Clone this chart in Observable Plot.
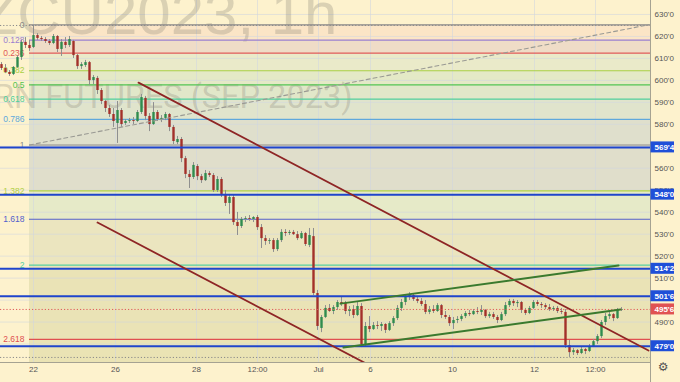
<!DOCTYPE html>
<html><head><meta charset="utf-8">
<script src="https://cdn.jsdelivr.net/npm/d3@7"></script>
<script src="https://cdn.jsdelivr.net/npm/@observablehq/plot@0.6"></script>
<style>
html,body{margin:0;padding:0;background:#fdf2cd;}
#chart svg{display:block;}
</style></head><body><div id="chart"></div>
<script>
// ---- hourly candles (bar index = position in series) ----
const opens = [607.2,605.4,603.6,602.7,605.9,610.4,617.3,615.9,615.0,620.4,
 619.1,618.6,617.7,616.8,620.0,614.1,617.3,615.9,617.7,611.3,
 606.3,606.8,608.1,599.9,600.9,595.4,590.4,587.2,584.5,580.4,
 586.3,580.4,581.3,581.7,581.3,585.4,591.8,583.6,579.9,585.4,
 582.2,582.7,584.5,578.6,571.7,573.1,564.4,557.2,555.8,560.8,
 556.2,554.4,557.6,556.7,549.9,554.9,548.1,544.0,546.7,535.3,
 533.5,536.7,537.1,536.7,537.6,533.0,528.0,526.7,527.1,523.0,
 527.1,530.8,530.3,530.8,529.8,528.0,530.3,524.9,528.9,503.0,
 487.1,492.1,496.2,494.8,496.6,498.9,498.4,494.8,495.7,493.0,
 497.1,479.8,488.0,486.6,488.4,488.0,488.9,486.2,489.3,491.6,
 496.2,498.9,501.2,502.1,500.3,499.4,498.0,494.4,495.7,494.8,
 497.5,493.0,492.1,489.3,490.7,491.2,492.5,493.9,493.4,494.8,
 494.4,495.3,492.5,493.4,492.1,490.7,493.4,497.5,499.4,498.4,
 498.9,495.3,493.9,496.2,498.9,498.0,497.5,496.6,495.7,496.2,
 494.8,494.4,479.3,476.1,477.0,475.7,477.5,476.6,478.9,481.1,
 483.4,489.8,492.5,493.4,491.6,495.3];
const highs = [608.1,607.2,604.5,606.3,611.3,618.2,619.5,618.2,625.0,621.3,
 620.0,619.5,618.6,620.9,620.4,618.6,619.5,620.0,618.2,611.8,
 608.1,609.1,608.6,602.2,601.8,596.3,590.9,588.6,587.2,590.4,
 587.2,582.2,582.7,583.1,586.3,593.6,592.7,584.9,589.9,586.3,
 584.0,585.4,584.9,579.5,574.5,574.0,565.4,559.0,562.6,561.7,
 557.2,559.0,558.5,557.6,556.2,555.8,549.9,548.1,547.6,539.9,
 537.6,538.0,538.5,538.0,538.5,534.4,529.4,528.0,528.0,528.0,
 532.1,532.1,531.7,531.7,531.2,531.2,530.8,532.6,532.6,504.4,
 493.0,497.5,498.0,497.5,499.8,501.2,499.4,497.1,497.5,498.9,
 498.4,489.8,492.5,489.8,490.2,489.8,489.3,490.2,492.5,497.5,
 500.3,502.5,503.4,503.0,501.6,500.7,499.8,497.1,497.5,498.4,
 498.0,494.8,493.0,492.1,492.5,493.4,494.8,495.3,495.7,496.6,
 497.5,495.7,494.4,494.4,493.0,494.4,498.9,500.3,500.3,499.8,
 499.4,496.2,497.1,499.8,499.8,498.9,498.4,498.0,497.1,497.1,
 496.2,495.7,481.6,478.0,477.5,478.4,478.0,479.8,482.1,484.3,
 490.7,493.9,494.4,493.9,496.2,496.6];
const lows = [604.5,603.1,601.8,602.2,605.4,609.1,614.5,613.2,614.5,618.2,
 617.7,616.8,615.9,616.3,612.7,610.9,614.5,615.0,610.0,605.0,
 605.0,605.9,597.7,598.1,593.6,589.0,585.4,583.1,578.6,571.3,
 578.6,579.5,580.4,579.9,580.8,584.5,581.7,576.7,579.5,581.3,
 580.8,581.7,576.7,570.8,570.8,562.6,555.3,550.8,554.9,554.4,
 553.1,554.0,555.8,549.0,549.0,546.7,542.6,539.0,534.0,529.4,
 532.6,535.3,535.8,535.3,531.7,523.5,524.9,525.3,521.7,522.1,
 526.2,528.9,529.4,529.4,527.1,527.6,524.4,523.9,502.1,486.2,
 485.2,491.6,494.4,493.4,495.3,497.1,493.4,492.5,491.6,492.5,
 478.4,478.9,485.2,486.2,486.6,485.7,484.8,485.7,488.0,490.7,
 494.8,497.5,499.8,499.4,498.4,497.1,493.4,493.4,493.9,494.4,
 491.6,491.2,488.0,486.6,489.3,490.2,491.6,492.5,493.0,493.4,
 493.0,491.6,491.6,491.2,489.3,490.2,492.5,496.6,497.1,496.6,
 493.9,493.0,493.4,495.7,497.1,496.2,495.7,494.8,494.8,493.9,
 493.4,478.0,473.9,474.8,474.8,475.2,475.2,476.1,478.4,479.8,
 482.5,488.4,491.2,490.2,491.2,494.8];
const closes = [605.4,603.6,602.7,605.9,610.4,617.3,615.9,614.5,620.4,619.1,
 618.6,617.7,616.8,620.0,614.1,617.3,615.9,618.6,611.3,606.3,
 607.2,608.1,599.9,601.3,595.4,590.4,587.2,584.5,581.3,586.3,
 579.9,581.3,581.7,581.3,585.4,592.2,583.6,579.9,585.4,582.2,
 582.7,584.5,578.6,572.2,573.1,564.4,557.2,555.8,561.3,556.2,
 554.4,557.6,556.7,549.9,554.9,548.1,544.0,546.7,535.3,533.5,
 536.7,537.1,536.7,537.6,533.0,528.0,526.7,527.1,523.0,527.1,
 530.8,530.3,530.8,529.8,528.0,530.3,525.3,529.4,503.0,488.0,
 492.1,496.2,494.8,496.6,498.9,498.4,494.8,495.7,493.0,497.1,
 479.8,488.0,486.6,488.4,488.0,488.9,486.2,489.3,491.6,496.2,
 498.9,501.2,502.1,500.3,499.4,498.0,494.4,495.7,494.8,497.5,
 493.0,492.1,489.3,490.7,491.2,492.5,493.9,493.4,494.8,494.4,
 495.3,492.5,493.4,492.1,490.7,493.4,497.5,499.4,498.4,498.9,
 495.3,493.9,496.2,498.9,498.0,497.5,496.6,495.7,496.2,494.8,
 494.4,479.3,476.1,477.0,475.7,477.5,476.6,478.9,481.1,483.4,
 489.8,492.5,493.4,491.6,495.3,495.7];

// ---- time axis (bar index of each label) ----
const tickIdx = [8, 28.5, 48.75, 64, 79.25, 92.25, 112.75, 133.25, 148.5];
const tickLabels = ["22", "26", "28", "12:00", "Jul", "6", "10", "12", "12:00"];

// ---- price axis ticks ----
const priceTicks = [480, 490, 500, 510, 520, 530, 540, 550, 560, 570, 580, 590, 600, 610, 620, 630];

// ---- Fibonacci tool ----
const fibStart = 7;
const fibRatios = ["0", "0.128", "0.236", "0.382", "0.5", "0.618", "0.786", "1", "1.382", "1.618", "2", "2.618"];
const fibPrices = [625.3, 618.3, 612.4, 604.4, 597.95, 591.5, 582.3, 570.6, 549.7, 536.8, 515.9, 482.1];

// ---- horizontal levels, last price, session high/low ----
const levels = [569.5, 548.0, 514.25, 501.75, 479.0];
const lastPrice = 495.75;
const extremes = [625.0, 473.9];

// ---- trend lines (bar index, price) ----
const upperDown = [{i: 34.25, p: 599.0}, {i: 161.75, p: 477.05}];
const lowerDown = [{i: 24, p: 535.3}, {i: 97.25, p: 465.3}];
const fibDiagonal = [{i: 7, p: 570.6}, {i: 161.75, p: 625.3}];
const channelTop = [{i: 84.75, p: 498.4}, {i: 154.25, p: 515.7}];
const channelBottom = [{i: 85.5, p: 478.4}, {i: 154.75, p: 495.7}];

// ---- styles ----
const fibColors = ["#8a8a8a", "#9a7fd0", "#e05858", "#a8cf45", "#52c452", "#4fcf9c", "#5ea8dc", "#8a8a8a", "#b2d045", "#5260cc", "#55d0a2", "#e05050"];
const bandFills = ["#fbe5c6", "#efdcc7", "#eaeac9", "#e4e9c6", "#e1e7c9", "#e0e4cc", "#dfdfcc", "#e0decb", "#e6eac8", "#ebe5bf", "#eae3b6", "#eae3b4"];

const xMin = -0.25, xMax = 162.25, yMin = 471.6, yMax = 636.37;
const fmt = v => { const w = Math.floor(v + 1e-9); return `${w}'${Math.round((v - w) * 8)}`; };

const candles = opens.map((o, i) => ({i, o, h: highs[i], l: lows[i], c: closes[i]}));
const bandEdges = fibPrices.concat([yMin]);
const bands = fibPrices.map((p, k) => ({top: p, bottom: bandEdges[k + 1], k}));
const shownTicks = priceTicks.filter(t => !levels.some(l => Math.abs(l - t) < 1.9));

const chart = Plot.plot({
  width: 680, height: 382,
  marginLeft: 0, marginRight: 30, marginTop: 0, marginBottom: 20,
  x: {domain: [xMin, xMax], axis: null},
  y: {domain: [yMin, yMax], axis: null},
  color: {type: "identity"},
  style: {background: "#fdf2cd", fontFamily: "'Liberation Sans', Arial, sans-serif", overflow: "visible"},
  marks: [
    // fib bands
    Plot.rect(bands, {x1: fibStart, x2: xMax, y1: "top", y2: "bottom", fill: d => bandFills[d.k]}),
    // grid
    Plot.ruleX(tickIdx, {stroke: "#cfd6e0", strokeOpacity: 0.55}),
    Plot.ruleY(priceTicks, {stroke: "#cfd6e0", strokeOpacity: 0.55}),
    // watermark
    Plot.text(["ZCU2023, 1h"], {frameAnchor: "top-left", dx: 337, dy: 33, textAnchor: "end", lineAnchor: "bottom",
      fontSize: 60, fill: "#7d7a6e", fillOpacity: 0.27, fontFamily: "'Liberation Sans', Arial, sans-serif"}),
    Plot.text(["CORN FUTURES (SEP 2023)"], {frameAnchor: "top-left", dx: 352, dy: 107, textAnchor: "end", lineAnchor: "bottom",
      fontSize: 32.5, fill: "#7d7a6e", fillOpacity: 0.27, fontFamily: "Roboto, sans-serif"}),
    // fib level lines and labels
    Plot.ruleY(fibPrices, {x1: fibStart, x2: xMax, stroke: (d, k) => fibColors[k], strokeWidth: 1.2}),
    Plot.text(fibPrices, {x: fibStart, y: d => d, dx: -5, text: (d, k) => fibRatios[k], textAnchor: "end",
      fill: (d, k) => fibColors[k], fontSize: 8.5}),
    // candles
    Plot.ruleX(candles, {x: "i", y1: "l", y2: "h", stroke: "#8f8f8f", strokeWidth: 1}),
    Plot.ruleX(candles, {x: "i", y1: "o", y2: "c", stroke: d => d.c >= d.o ? "#2f8c4e" : "#a3302a", strokeWidth: 2.4}),
    // session high / low and last price
    Plot.ruleY(extremes, {stroke: "#8a8a8a", strokeDasharray: "1.2,2"}),
    Plot.ruleY([lastPrice], {stroke: "#e05a5a", strokeDasharray: "1.2,2"}),
    // horizontal levels
    Plot.ruleY(levels, {stroke: "#1f45cc", strokeWidth: 2}),
    // trend lines
    Plot.line(fibDiagonal, {x: "i", y: "p", stroke: "#9a9a94", strokeWidth: 1.1, strokeDasharray: "4,3"}),
    Plot.line(upperDown, {x: "i", y: "p", stroke: "#8e2525", strokeWidth: 1.8, clip: true}),
    Plot.line(lowerDown, {x: "i", y: "p", stroke: "#8e2525", strokeWidth: 1.8, clip: true}),
    Plot.line(channelTop, {x: "i", y: "p", stroke: "#3a7a2e", strokeWidth: 2}),
    Plot.line(channelBottom, {x: "i", y: "p", stroke: "#3a7a2e", strokeWidth: 2}),
    // borders
    Plot.ruleY([yMin], {stroke: "#a5a292"}),
    Plot.ruleX([xMax], {stroke: "#a5a292", insetBottom: -20}),
    // right axis labels
    Plot.text(shownTicks, {x: xMax, y: d => d, dx: 4, text: d => fmt(d), textAnchor: "start", fontSize: 8, fill: "#555555"}),
    Plot.rect(levels, {x1: xMax, x2: xMax, y1: d => d, y2: d => d, insetLeft: 0.5, insetRight: -24, insetTop: -5.5, insetBottom: -5.5, fill: "#1f4fd8"}),
    Plot.text(levels, {x: xMax, y: d => d, dx: 4, text: d => fmt(d), textAnchor: "start", fontSize: 8, fontWeight: "bold", fill: "white"}),
    Plot.rect([lastPrice], {x1: xMax, x2: xMax, y1: d => d, y2: d => d, insetLeft: 0.5, insetRight: -24, insetTop: -5.5, insetBottom: -5.5, fill: "#e05252"}),
    Plot.text([lastPrice], {x: xMax, y: d => d, dx: 4, text: d => fmt(d), textAnchor: "start", fontSize: 8, fontWeight: "bold", fill: "white"}),
    // time axis labels
    Plot.text(tickIdx, {x: d => d, text: (d, k) => tickLabels[k], frameAnchor: "bottom", dy: 9, fontSize: 8, fill: "#555555"}),
    // settings glyph
    Plot.text(["⚙"], {frameAnchor: "bottom-right", dx: 18, dy: 8, fontSize: 12, fill: "#555555", fontFamily: "'DejaVu Sans', sans-serif"})
  ]
});
document.getElementById("chart").appendChild(chart);
</script>
</body></html>
